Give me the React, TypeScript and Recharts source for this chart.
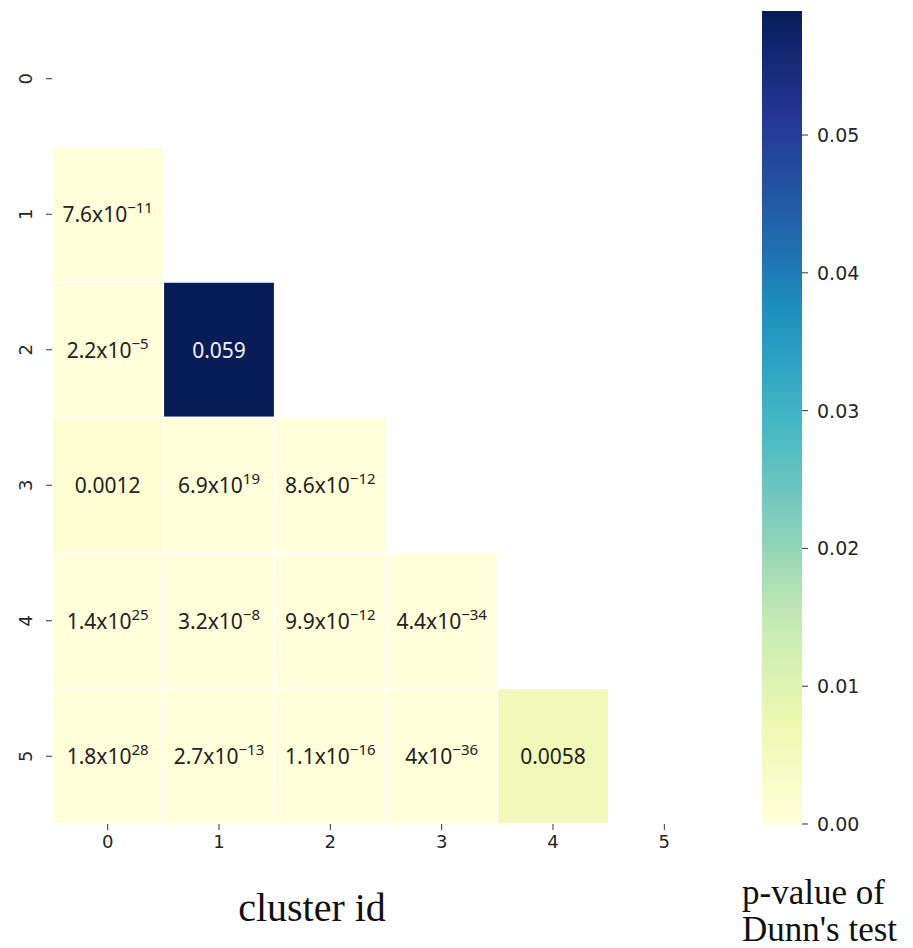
import React from "react";
import {
  ScatterChart,
  Scatter,
  XAxis,
  YAxis,
  ReferenceArea,
  ComposedChart,
} from "recharts";

// cluster ids on both axes
const clusterIds = [0, 1, 2, 3, 4, 5];

// lower triangle of Dunn's test p-values, one array per row (row 1..5)
const row1Values = [7.6e-11];
const row2Values = [2.2e-5, 0.059];
const row3Values = [0.0012, 6.9e-19, 8.6e-12];
const row4Values = [1.4e-25, 3.2e-8, 9.9e-12, 4.4e-34];
const row5Values = [1.8e-28, 2.7e-13, 1.1e-16, 4e-36, 0.0058];

// annotations as printed on the figure ("^" marks the exponent)
const row1Labels = ["7.6x10^−11"];
const row2Labels = ["2.2x10^−5", "0.059"];
const row3Labels = ["0.0012", "6.9x10^19", "8.6x10^−12"];
const row4Labels = ["1.4x10^25", "3.2x10^−8", "9.9x10^−12", "4.4x10^−34"];
const row5Labels = ["1.8x10^28", "2.7x10^−13", "1.1x10^−16", "4x10^−36", "0.0058"];

const colorbarTicks = [0, 0.01, 0.02, 0.03, 0.04, 0.05];

const rowValues = [[], row1Values, row2Values, row3Values, row4Values, row5Values];
const rowLabels = [[], row1Labels, row2Labels, row3Labels, row4Labels, row5Labels];

const cells = rowValues.flatMap((vals: number[], row) =>
  vals.map((value, col) => ({ row, col, value, label: rowLabels[row][col] }))
);

const VMAX = Math.max(...cells.map((c) => c.value));

// YlGnBu colour map
const YLGNBU = [
  "#ffffd9", "#edf8b1", "#c7e9b4", "#7fcdbb", "#41b6c4",
  "#1d91c0", "#225ea8", "#253494", "#081d58",
];

const hexToRgb = (h: string) => [
  parseInt(h.slice(1, 3), 16),
  parseInt(h.slice(3, 5), 16),
  parseInt(h.slice(5, 7), 16),
];

const colorFor = (v: number) => {
  const t = Math.max(0, Math.min(1, v / VMAX)) * (YLGNBU.length - 1);
  const i = Math.min(Math.floor(t), YLGNBU.length - 2);
  const f = t - i;
  const a = hexToRgb(YLGNBU[i]);
  const b = hexToRgb(YLGNBU[i + 1]);
  const c = a.map((x, k) => Math.round(x + (b[k] - x) * f));
  return `rgb(${c[0]},${c[1]},${c[2]})`;
};

const TICK_FONT = "'DejaVu Sans', sans-serif";
const ANNOT_FONT = "'Noto Sans', 'Open Sans', sans-serif";
const SERIF = "'Liberation Serif', 'Times New Roman', serif";

const CellText = (props: any) => {
  const { cx, cy, payload } = props;
  if (cx == null || cy == null) return null;
  const [base, exp] = payload.label.split("^");
  const light = payload.value / VMAX > 0.5;
  return (
    <text
      x={cx}
      y={cy}
      dy={8}
      textAnchor="middle"
      fontFamily={ANNOT_FONT}
      fontSize={21}
      fill={light ? "#f2f2f2" : "#222222"}
    >
      <tspan>{base}</tspan>
      {exp && (
        <tspan dy={-9} fontSize={15}>
          {exp}
        </tspan>
      )}
    </text>
  );
};

const XTick = ({ x, y, payload }: any) => (
  <text
    x={x}
    y={y}
    dy={16}
    textAnchor="middle"
    fontFamily={TICK_FONT}
    fontSize={18}
    fill="#262626"
  >
    {payload.value}
  </text>
);

const YTick = ({ x, y, payload }: any) => (
  <g transform={`translate(${x - 19},${y})`}>
    <text
      transform="rotate(-90)"
      textAnchor="middle"
      dominantBaseline="central"
      fontFamily={TICK_FONT}
      fontSize={18}
      fill="#262626"
    >
      {payload.value}
    </text>
  </g>
);

const CbarTick = ({ x, y, payload }: any) => (
  <text
    x={x}
    y={y}
    dy={7}
    textAnchor="start"
    fontFamily={TICK_FONT}
    fontSize={19}
    fill="#262626"
  >
    {payload.value.toFixed(2)}
  </text>
);

const App = () => {
  return (
    <div
      style={{
        position: "absolute",
        left: 0,
        top: 0,
        width: 913,
        height: 948,
        background: "#fff",
      }}
    >
      <svg width={0} height={0} style={{ position: "absolute" }}>
        <defs>
          <linearGradient id="ylgnbu" x1="0" y1="1" x2="0" y2="0">
            {YLGNBU.map((c, i) => (
              <stop key={c} offset={i / (YLGNBU.length - 1)} stopColor={c} />
            ))}
          </linearGradient>
        </defs>
      </svg>

      {/* heatmap */}
      <div style={{ position: "absolute", left: 0, top: 0 }}>
        <ScatterChart
          width={913}
          height={948}
          margin={{ top: 11, right: 193, bottom: 0, left: 12 }}
        >
          <XAxis
            type="number"
            dataKey="col"
            domain={[-0.5, 5.5]}
            ticks={clusterIds}
            allowDataOverflow
            height={124}
            axisLine={false}
            tickLine={{ stroke: "#333", strokeWidth: 1 }}
            tickSize={6}
            tick={<XTick />}
          />
          <YAxis
            type="number"
            dataKey="row"
            domain={[-0.5, 5.5]}
            ticks={clusterIds}
            reversed
            allowDataOverflow
            width={40}
            axisLine={false}
            tickLine={{ stroke: "#333", strokeWidth: 1 }}
            tickSize={6}
            tick={<YTick />}
          />
          {cells.map((c) => (
            <ReferenceArea
              key={`cell-${c.row}-${c.col}`}
              x1={c.col - 0.5}
              x2={c.col + 0.5}
              y1={c.row - 0.5}
              y2={c.row + 0.5}
              fill={colorFor(c.value)}
              fillOpacity={1}
              stroke="#ffffff"
              strokeWidth={1.5}
              ifOverflow="visible"
            />
          ))}
          <Scatter
            data={cells}
            isAnimationActive={false}
            shape={<CellText />}
          />
        </ScatterChart>
      </div>

      {/* colour bar */}
      <div style={{ position: "absolute", left: 740, top: 0 }}>
        <ComposedChart
          width={173}
          height={948}
          data={[{ x: 0 }, { x: 1 }]}
          margin={{ top: 11, right: 0, bottom: 124, left: 22 }}
        >
          <XAxis type="number" dataKey="x" domain={[0, 1]} hide />
          <YAxis
            type="number"
            orientation="right"
            domain={[0, VMAX]}
            ticks={colorbarTicks}
            allowDataOverflow
            width={111}
            axisLine={false}
            tickLine={{ stroke: "#333", strokeWidth: 1 }}
            tickSize={6}
            tickMargin={9}
            tick={<CbarTick />}
          />
          <ReferenceArea
            x1={0}
            x2={1}
            y1={0}
            y2={VMAX}
            fill="url(#ylgnbu)"
            fillOpacity={1}
            stroke="none"
            ifOverflow="visible"
          />
        </ComposedChart>
      </div>

      <div
        style={{
          position: "absolute",
          left: 212,
          width: 200,
          top: 886,
          textAlign: "center",
          fontFamily: SERIF,
          fontSize: 40,
          lineHeight: "44px",
          color: "#111",
          whiteSpace: "nowrap",
        }}
      >
        cluster id
      </div>
      <div
        style={{
          position: "absolute",
          left: 742,
          top: 874,
          textAlign: "left",
          fontFamily: SERIF,
          fontSize: 35,
          lineHeight: "37px",
          color: "#111",
          whiteSpace: "nowrap",
        }}
      >
        p-value of
        <br />
        Dunn's test
      </div>
    </div>
  );
};

export default App;
